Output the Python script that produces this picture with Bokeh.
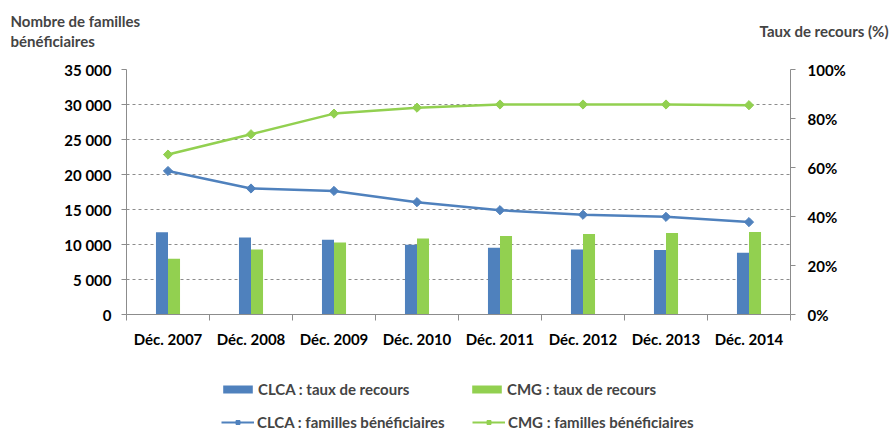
from bokeh.plotting import figure
from bokeh.models import (Range1d, LinearAxis, FixedTicker, Legend, LegendItem,
                          ColumnDataSource, Label)
from bokeh.transform import dodge
from bokeh.embed import file_html
from bokeh.resources import INLINE
import numpy as np

# ---- data ----
categories = ["Déc. 2007", "Déc. 2008", "Déc. 2009", "Déc. 2010",
              "Déc. 2011", "Déc. 2012", "Déc. 2013", "Déc. 2014"]
clca_taux = [33.6, 31.4, 30.5, 28.5, 27.2, 26.5, 26.3, 25.2]      # %
cmg_taux = [22.8, 26.5, 29.4, 31.0, 32.0, 32.9, 33.3, 33.7]       # %
clca_familles = [20500, 18000, 17650, 16050, 14900, 14250, 13950, 13200]
cmg_familles = [22850, 25750, 28700, 29550, 30000, 30000, 30000, 29900]

left_ticks = [0, 5000, 10000, 15000, 20000, 25000, 30000, 35000]
left_labels = ["0", "5 000", "10 000", "15 000", "20 000", "25 000", "30 000", "35 000"]
right_ticks = [0, 20, 40, 60, 80, 100]
right_labels = ["0%", "20%", "40%", "60%", "80%", "100%"]

BLUE = "#4F81BD"
GREEN = "#92D050"
GRID = "#8c8c8c"
AXIS = "#8c8c8c"
FONT = "Lato"
FS = "15px"

W = 895
H_TOP, H_MAIN, H_LEG = 60, 290, 80

n = len(categories)
xpos = np.arange(n) + 0.5
src = ColumnDataSource(dict(x=xpos, clca_taux=clca_taux, cmg_taux=cmg_taux,
                            clca_f=clca_familles, cmg_f=cmg_familles))


def bare_figure(height):
    f = figure(width=W, height=height, output_backend="svg", toolbar_location=None,
               x_range=Range1d(0, 1), y_range=Range1d(0, 1),
               x_axis_type=None, y_axis_type=None,
               min_border=0, min_border_left=0, min_border_right=0,
               min_border_top=0, min_border_bottom=0)
    f.outline_line_color = None
    f.grid.visible = False
    return f


# ---------- header with axis titles ----------
top = bare_figure(H_TOP)
for i, t in enumerate(["Nombre de familles", "bénéficiaires"]):
    top.add_layout(Label(x=10, y=H_TOP - 11 - 20 * i, x_units="screen", y_units="screen",
                         text=t, text_font=FONT, text_font_style="bold",
                         text_font_size=FS, text_baseline="top"))
top.add_layout(Label(x=888, y=H_TOP - 21, x_units="screen", y_units="screen",
                     text="Taux de recours (%)", text_font=FONT, text_font_style="bold",
                     text_font_size=FS, text_baseline="top", text_align="right"))

# ---------- main chart ----------
p = figure(width=W, height=H_MAIN, output_backend="svg", toolbar_location=None,
           x_range=Range1d(0, n), y_range=Range1d(0, 35000),
           min_border_left=126, min_border_right=105, min_border_top=9,
           min_border_bottom=H_MAIN - 9 - 246)
p.extra_y_ranges = {"pct": Range1d(0, 100)}
p.outline_line_color = None
p.xgrid.grid_line_color = None
p.ygrid.grid_line_color = GRID
p.ygrid.grid_line_dash = "3 3"
p.ygrid.grid_line_width = 1
p.ygrid.ticker = FixedTicker(ticks=left_ticks)

bw = 0.145
p.vbar(x=dodge("x", -bw / 2, range=p.x_range), top="clca_taux", width=bw,
       source=src, y_range_name="pct", fill_color=BLUE, line_color=None)
p.vbar(x=dodge("x", bw / 2, range=p.x_range), top="cmg_taux", width=bw,
       source=src, y_range_name="pct", fill_color=GREEN, line_color=None)

MK = dict(marker="square", size=6.5, angle=np.pi / 4)
p.line("x", "clca_f", source=src, line_color=BLUE, line_width=2.5)
p.scatter("x", "clca_f", source=src, fill_color=BLUE, line_color=BLUE, **MK)
p.line("x", "cmg_f", source=src, line_color=GREEN, line_width=2.5)
p.scatter("x", "cmg_f", source=src, fill_color=GREEN, line_color=GREEN, **MK)


def style_axis(ax):
    ax.axis_line_color = AXIS
    ax.major_tick_line_color = AXIS
    ax.minor_tick_line_color = AXIS
    ax.major_label_text_font = FONT
    ax.major_label_text_font_style = "bold"
    ax.major_label_text_font_size = FS
    ax.major_label_text_color = "#000000"
    ax.major_tick_in = 0


yax = p.yaxis[0]
style_axis(yax)
yax.ticker = FixedTicker(ticks=left_ticks)
yax.major_label_overrides = dict(zip(left_ticks, left_labels))
yax.major_tick_out = 5
yax.major_label_standoff = 10
yax.minor_tick_out = 0

rax = LinearAxis(y_range_name="pct")
style_axis(rax)
rax.ticker = FixedTicker(ticks=right_ticks)
rax.major_label_overrides = dict(zip(right_ticks, right_labels))
rax.major_tick_out = 5
rax.major_label_standoff = 12
rax.minor_tick_out = 0
p.add_layout(rax, "right")

xax = p.xaxis[0]
style_axis(xax)
xax.ticker = FixedTicker(ticks=list(xpos), minor_ticks=list(range(n + 1)))
xax.major_label_overrides = {float(x): c for x, c in zip(xpos, categories)}
xax.major_tick_out = 0
xax.minor_tick_out = 6
xax.minor_tick_in = 0
xax.major_label_standoff = 9

# ---------- legend strip (swatch renderers hidden, used only for legend glyphs) ----------
leg = bare_figure(H_LEG)
s_b1 = leg.vbar(x="x", top="clca_taux", width=0.1, source=src, fill_color=BLUE,
                line_color=None, visible=False)
s_b2 = leg.vbar(x="x", top="cmg_taux", width=0.1, source=src, fill_color=GREEN,
                line_color=None, visible=False)
s_l1 = leg.line("x", "clca_f", source=src, line_color=BLUE, line_width=2, visible=False)
s_m1 = leg.scatter("x", "clca_f", source=src, fill_color=BLUE, line_color=BLUE,
                   visible=False, **MK)
s_l2 = leg.line("x", "cmg_f", source=src, line_color=GREEN, line_width=2, visible=False)
s_m2 = leg.scatter("x", "cmg_f", source=src, fill_color=GREEN, line_color=GREEN,
                   visible=False, **MK)


def add_item(label, renderers, loc, gw, standoff):
    lg = Legend(items=[LegendItem(label=label, renderers=renderers)],
                location=loc, padding=0, margin=0, spacing=0,
                glyph_width=gw, glyph_height=10, label_height=16,
                label_standoff=standoff, border_line_alpha=0,
                background_fill_alpha=0, inactive_fill_alpha=0,
                label_text_font=FONT, label_text_font_style="bold",
                label_text_font_size=FS)
    leg.add_layout(lg, "center")


add_item("CLCA : taux de recours", [s_b1], (219, 32), 37, 2)
add_item("CMG : taux de recours", [s_b2], (468, 32), 37, 2)
add_item("CLCA : familles bénéficiaires", [s_l1, s_m1], (221, -1), 33, 3)
add_item("CMG : familles bénéficiaires", [s_l2, s_m2], (472, -1), 33, 3)

open("out.html", "w").write(file_html([top, p, leg], INLINE))
